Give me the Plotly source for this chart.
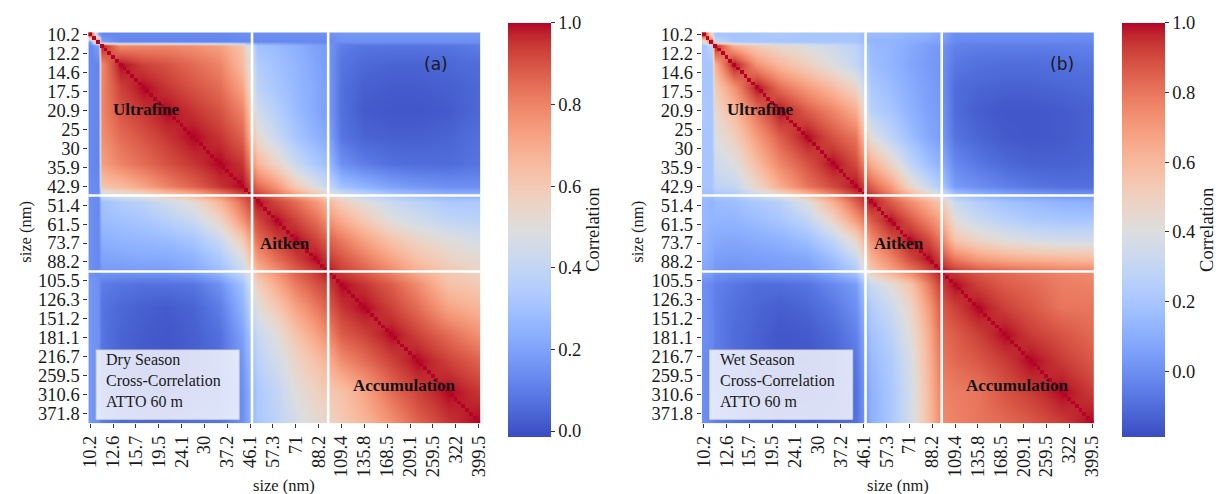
import plotly.graph_objects as go

# ---------------- data ----------------
BINS = [10.2, 10.6, 10.9, 11.3, 11.8, 12.2, 12.6, 13.1, 13.6, 14.1,
        14.6, 15.1, 15.7, 16.3, 16.8, 17.5, 18.1, 18.8, 19.5, 20.2,
        20.9, 21.7, 22.5, 23.3, 24.1, 25.0, 25.9, 26.9, 27.9, 28.9,
        30.0, 31.1, 32.2, 33.4, 34.6, 35.9, 37.2, 38.5, 40.0, 41.4,
        42.9, 44.5, 46.1, 47.8, 49.6, 51.4, 53.3, 55.2, 57.3, 59.4,
        61.5, 63.8, 66.1, 68.5, 71.0, 73.7, 76.4, 79.1, 82.0, 85.1,
        88.2, 91.4, 94.7, 98.2, 101.8, 105.5, 109.4, 113.4, 117.6, 121.9,
        126.3, 131.0, 135.8, 140.7, 145.9, 151.2, 156.8, 162.5, 168.5, 174.7,
        181.1, 187.7, 194.6, 201.7, 209.1, 216.7, 224.7, 232.9, 241.4, 250.3,
        259.5, 269.0, 278.8, 289.0, 299.6, 310.6, 322.0, 333.8, 346.0, 358.7,
        371.8, 385.4, 399.5]

Y_TICK_NM = [10.2, 12.2, 14.6, 17.5, 20.9, 25.0, 30.0, 35.9, 42.9, 51.4, 61.5,
             73.7, 88.2, 105.5, 126.3, 151.2, 181.1, 216.7, 259.5, 310.6, 371.8]
X_TICK_NM = [10.2, 12.6, 15.7, 19.5, 24.1, 30.0, 37.2, 46.1, 57.3, 71.0, 88.2,
             109.4, 135.8, 168.5, 209.1, 259.5, 322.0, 399.5]

# first bin of the Aitken and of the accumulation mode (white separators)
MODE_START_NM = [47.8, 98.2]

ANCHOR_NM = [10.2, 10.9, 11.3, 13.6, 16.8, 20.9, 26.9, 34.6, 42.9, 49.6,
             59.4, 71.0, 85.1, 94.7, 109.4, 135.8, 174.7, 224.7, 299.6, 399.5]

# upper triangles (row i: columns i..end) of the estimated correlation matrices
DRY_UPPER = [
    [1.0, 0.20, 0.13, 0.13, 0.13, 0.13, 0.13, 0.13, 0.14, 0.15, 0.15, 0.15, 0.15, 0.15, 0.17, 0.17, 0.17, 0.17, 0.17, 0.17],
    [1.0, 0.20, 0.12, 0.12, 0.12, 0.12, 0.12, 0.13, 0.13, 0.13, 0.13, 0.13, 0.13, 0.15, 0.15, 0.15, 0.15, 0.15, 0.15],
    [1.0, 0.78, 0.79, 0.79, 0.77, 0.73, 0.62, 0.30, 0.28, 0.24, 0.20, 0.18, 0.10, 0.08, 0.08, 0.08, 0.08, 0.10],
    [1.0, 0.93, 0.90, 0.85, 0.80, 0.65, 0.35, 0.30, 0.26, 0.21, 0.18, 0.08, 0.05, 0.04, 0.04, 0.05, 0.06],
    [1.0, 0.95, 0.90, 0.85, 0.72, 0.38, 0.32, 0.27, 0.22, 0.19, 0.07, 0.03, 0.02, 0.02, 0.03, 0.05],
    [1.0, 0.95, 0.90, 0.80, 0.44, 0.36, 0.28, 0.22, 0.19, 0.07, 0.02, 0.01, 0.01, 0.02, 0.05],
    [1.0, 0.95, 0.87, 0.52, 0.42, 0.32, 0.25, 0.22, 0.08, 0.04, 0.03, 0.03, 0.04, 0.07],
    [1.0, 0.95, 0.67, 0.55, 0.42, 0.33, 0.29, 0.15, 0.10, 0.07, 0.06, 0.06, 0.08],
    [1.0, 0.86, 0.76, 0.60, 0.48, 0.42, 0.30, 0.25, 0.20, 0.17, 0.15, 0.15],
    [1.0, 0.92, 0.85, 0.75, 0.68, 0.58, 0.50, 0.42, 0.38, 0.33, 0.33],
    [1.0, 0.93, 0.85, 0.78, 0.70, 0.60, 0.50, 0.45, 0.40, 0.38],
    [1.0, 0.93, 0.88, 0.82, 0.72, 0.62, 0.55, 0.50, 0.46],
    [1.0, 0.95, 0.90, 0.82, 0.72, 0.63, 0.56, 0.52],
    [1.0, 0.93, 0.87, 0.78, 0.68, 0.60, 0.55],
    [1.0, 0.95, 0.88, 0.78, 0.63, 0.60],
    [1.0, 0.93, 0.85, 0.72, 0.67],
    [1.0, 0.93, 0.85, 0.77],
    [1.0, 0.93, 0.87],
    [1.0, 0.95],
    [1.0],
]

WET_UPPER = [
    [1.0, 0.38, 0.20, 0.20, 0.20, 0.22, 0.20, 0.20, 0.20, 0.15, 0.15, 0.13, 0.10, 0.08, 0.00, 0.00, 0.00, 0.00, 0.00, 0.00],
    [1.0, 0.30, 0.20, 0.20, 0.20, 0.20, 0.20, 0.20, 0.13, 0.13, 0.10, 0.08, 0.06, -0.02, -0.02, -0.02, -0.02, -0.02, -0.02],
    [1.0, 0.63, 0.52, 0.45, 0.40, 0.34, 0.28, 0.15, 0.13, 0.09, 0.05, 0.03, -0.04, -0.05, -0.05, -0.05, -0.05, -0.04],
    [1.0, 0.72, 0.60, 0.50, 0.40, 0.30, 0.17, 0.13, 0.08, 0.04, 0.02, -0.07, -0.09, -0.10, -0.10, -0.09, -0.08],
    [1.0, 0.82, 0.70, 0.59, 0.47, 0.22, 0.16, 0.10, 0.05, 0.03, -0.10, -0.12, -0.13, -0.13, -0.12, -0.11],
    [1.0, 0.86, 0.76, 0.64, 0.26, 0.20, 0.12, 0.06, 0.04, -0.10, -0.14, -0.16, -0.16, -0.15, -0.13],
    [1.0, 0.88, 0.80, 0.41, 0.28, 0.17, 0.08, 0.05, -0.08, -0.12, -0.15, -0.16, -0.15, -0.13],
    [1.0, 0.90, 0.64, 0.47, 0.29, 0.17, 0.12, -0.02, -0.07, -0.11, -0.13, -0.13, -0.12],
    [1.0, 0.86, 0.70, 0.47, 0.31, 0.23, 0.04, 0.00, -0.04, -0.07, -0.09, -0.09],
    [1.0, 0.86, 0.74, 0.62, 0.55, 0.32, 0.24, 0.18, 0.15, 0.12, 0.11],
    [1.0, 0.88, 0.76, 0.68, 0.42, 0.33, 0.27, 0.23, 0.21, 0.21],
    [1.0, 0.90, 0.80, 0.55, 0.47, 0.41, 0.37, 0.35, 0.35],
    [1.0, 0.92, 0.79, 0.70, 0.645, 0.62, 0.60, 0.59],
    [1.0, 0.92, 0.86, 0.82, 0.79, 0.76, 0.74],
    [1.0, 0.92, 0.86, 0.83, 0.78, 0.77],
    [1.0, 0.92, 0.87, 0.80, 0.80],
    [1.0, 0.93, 0.88, 0.83],
    [1.0, 0.93, 0.87],
    [1.0, 0.93],
    [1.0],
]

DRY_RANGE = (-0.014, 1.0)
WET_RANGE = (-0.188, 1.0)
CBAR_TICKS = [0.0, 0.2, 0.4, 0.6, 0.8, 1.0]

# matplotlib "coolwarm" control points
COOLWARM_RGB = [
    (59, 76, 192), (68, 90, 204), (77, 104, 215), (87, 117, 225), (98, 130, 234),
    (108, 142, 241), (119, 154, 247), (130, 165, 251), (141, 176, 254), (152, 185, 255),
    (163, 194, 255), (174, 201, 253), (184, 208, 249), (194, 213, 244), (204, 217, 238),
    (213, 219, 230), (221, 221, 221), (229, 216, 209), (236, 211, 197), (241, 204, 185),
    (245, 196, 173), (247, 187, 160), (247, 177, 148), (247, 166, 135), (244, 154, 123),
    (241, 141, 111), (236, 127, 99), (229, 112, 88), (222, 96, 77), (213, 80, 66),
    (203, 62, 56), (192, 40, 47), (180, 4, 38)]

# ---------------- helpers ----------------
def full_matrix(upper):
    n = len(upper)
    m = [[0.0] * n for _ in range(n)]
    for i, row in enumerate(upper):
        for k, v in enumerate(row):
            m[i][i + k] = v
            m[i + k][i] = v
    return m


def fmt(v):
    return f"{v:g}"


COLORSCALE = [[k / (len(COOLWARM_RGB) - 1), "rgb(%d,%d,%d)" % c] for k, c in enumerate(COOLWARM_RGB)]
POS = {v: i for i, v in enumerate(BINS)}
NB = len(BINS)
anchor_pos = [POS[v] for v in ANCHOR_NM]
diag_z = [[1.0 if i == j else None for j in range(NB)] for i in range(NB)]

SERIF = "Liberation Serif, Times New Roman, serif"
SANS = "DejaVu Sans, Arial, sans-serif"
INK = "#1a1a1a"

W, H = 1220, 494
PLOT_TOP, PLOT_BOT = 24.8, 423.0
panels = [
    dict(upper=DRY_UPPER, rng=DRY_RANGE, left=81.4, right=478.7, cbx=506.7,
         tag="(a)", tagx=0.8875, season="Dry Season", ytitle_x=18.3),
    dict(upper=WET_UPPER, rng=WET_RANGE, left=703.0, right=1100.5, cbx=1128.3,
         tag="(b)", tagx=0.918, season="Wet Season", ytitle_x=638.3),
]

fig = go.Figure()
shapes, annotations = [], []
layout_axes = {}

for p_i, p in enumerate(panels):
    sfx = "" if p_i == 0 else str(p_i + 1)
    xa, ya = "x" + sfx, "y" + sfx
    z = full_matrix(p["upper"])
    fig.add_trace(go.Heatmap(
        z=z, x=anchor_pos, y=anchor_pos, xaxis=xa, yaxis=ya,
        colorscale=COLORSCALE, zmin=p["rng"][0], zmax=p["rng"][1], zsmooth="best",
        hoverinfo="skip",
        colorbar=dict(
            x=p["cbx"] / W, xanchor="left", xpad=0,
            y=1 - (19 + 432.7) / 2 / H, yanchor="middle", ypad=0,
            len=413.7, lenmode="pixels", thickness=42.6, thicknessmode="pixels",
            outlinewidth=0, ticks="outside", ticklen=4, tickwidth=1, tickcolor="#333",
            tickvals=CBAR_TICKS, ticktext=["%.1f" % t for t in CBAR_TICKS],
            tickfont=dict(family=SERIF, size=18.5, color=INK),
            title=dict(text="Correlation", side="right", font=dict(family=SERIF, size=18.5, color=INK)),
        ),
    ))
    fig.add_trace(go.Heatmap(
        z=diag_z, x=list(range(NB)), y=list(range(NB)), xaxis=xa, yaxis=ya,
        colorscale=[[0, COLORSCALE[-1][1]], [1, COLORSCALE[-1][1]]],
        showscale=False, hoverinfo="skip", zsmooth=False,
    ))

    axis_common = dict(showgrid=False, zeroline=False, showline=False, ticks="outside",
                       ticklen=4, tickwidth=1, tickcolor="#333",
                       tickfont=dict(family=SERIF, size=18.5, color=INK))
    layout_axes["xaxis" + sfx] = dict(
        axis_common, domain=[p["left"] / W, p["right"] / W], range=[-0.5, NB - 0.5],
        tickvals=[POS[v] for v in X_TICK_NM], ticktext=[fmt(v) for v in X_TICK_NM],
        tickangle=-90, anchor=ya)
    layout_axes["yaxis" + sfx] = dict(
        axis_common, domain=[1 - PLOT_BOT / H, 1 - PLOT_TOP / H], range=[NB - 0.5, -0.5],
        tickvals=[POS[v] for v in Y_TICK_NM], ticktext=[fmt(v) for v in Y_TICK_NM],
        anchor=xa)

    # white mode separators
    for v in MODE_START_NM:
        k = POS[v] - 0.5
        shapes.append(dict(type="line", xref=xa, yref=ya + " domain", x0=k, x1=k, y0=0, y1=1,
                           line=dict(color="white", width=2.6)))
        shapes.append(dict(type="line", xref=xa + " domain", yref=ya, x0=0, x1=1, y0=k, y1=k,
                           line=dict(color="white", width=2.6)))
    # legend-like box
    shapes.append(dict(type="rect", xref=xa + " domain", yref=ya + " domain",
                       x0=0.0199, x1=0.3848, y0=0.010, y1=0.1876,
                       fillcolor="rgba(255,255,255,0.8)",
                       line=dict(color="rgba(204,204,204,0.9)", width=1)))
    annotations.append(dict(text="<br>".join([p["season"], "Cross-Correlation", "ATTO 60 m"]),
                            xref=xa + " domain", yref=ya + " domain", align="left",
                            x=0.041, y=0.1105, xanchor="left", yanchor="middle", showarrow=False,
                            font=dict(family=SERIF, size=16, color=INK)))
    for txt, xx, yy in [("Ultrafine", 0.1488, 0.8029), ("Aitken", 0.5024, 0.4596),
                        ("Accumulation", 0.806, 0.0972)]:
        annotations.append(dict(text="<b>%s</b>" % txt, xref=xa + " domain", yref=ya + " domain",
                                x=xx, y=yy, xanchor="center", yanchor="middle", showarrow=False,
                                font=dict(family=SERIF, size=17, color="#111")))
    annotations.append(dict(text=p["tag"], xref=xa + " domain", yref=ya + " domain",
                            x=p["tagx"], y=0.9184, xanchor="center", yanchor="middle",
                            showarrow=False, font=dict(family=SANS, size=17, color=INK)))
    # axis titles
    annotations.append(dict(text="size (nm)", xref=xa + " domain", yref="paper",
                            x=0.5, y=1 - 486.0 / H, xanchor="center", yanchor="middle",
                            showarrow=False, font=dict(family=SERIF, size=16.5, color=INK)))
    annotations.append(dict(text="size (nm)", xref="paper", yref=ya + " domain",
                            x=p["ytitle_x"] / W, y=0.49, xanchor="center", yanchor="middle",
                            textangle=-90, showarrow=False,
                            font=dict(family=SERIF, size=16.5, color=INK)))

fig.update_layout(
    width=W, height=H, margin=dict(l=0, r=0, t=0, b=0),
    paper_bgcolor="white", plot_bgcolor="white", showlegend=False,
    shapes=shapes, annotations=annotations, **layout_axes,
)

fig.write_html("out.html", config={"displayModeBar": False},
               post_script="document.body.style.margin='0';")
